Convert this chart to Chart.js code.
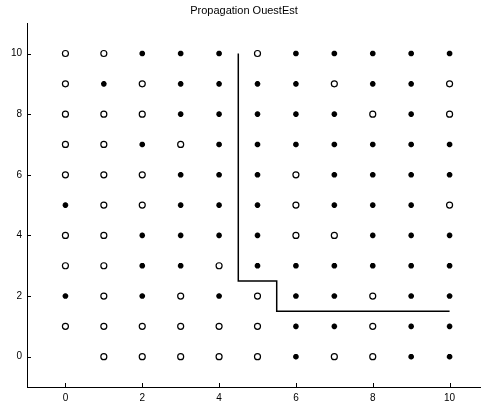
<!DOCTYPE html>
<html>
<head>
<meta charset="utf-8">
<script src="https://cdn.jsdelivr.net/npm/chart.js@4/dist/chart.umd.min.js"></script>
<style>
html,body{margin:0;padding:0;background:#fff;overflow:hidden;}
canvas{display:block;}
</style>
</head>
<body>
<canvas id="c" width="508" height="406"></canvas>
<script>
// Grid columns (x) and rows (y)
const xs = [0,1,2,3,4,5,6,7,8,9,10];
const ys = [10,9,8,7,6,5,4,3,2,1,0];
// Marker per cell, row by row from y=10 down to y=0: o = circle, * = star, . = none
const markerRows = [
  "oo***o*****",
  "o*o****o**o",
  "ooo*****o*o",
  "oo*o*******",
  "ooo***o****",
  "*oo***o***o",
  "oo****oo***",
  "oo**o******",
  "*o*o*o**o**",
  "oooooo**o**",
  ".ooooo*oo**"
];
// Frontier line
const lineX = [4.5, 4.5, 5.5, 5.5, 10];
const lineY = [10, 2.5, 2.5, 1.5, 1.5];
const xTicks = [0,2,4,6,8,10];
const yTicks = [0,2,4,6,8,10];
const titleText = "Propagation OuestEst";

const circles = [], stars = [];
ys.forEach((y, r) => {
  xs.forEach((x, c) => {
    const m = markerRows[r][c];
    if (m === 'o') circles.push({x, y});
    else if (m === '*') stars.push({x, y});
  });
});
const frontier = lineX.map((x, i) => ({x, y: lineY[i]}));

const FONT = "'Liberation Sans', Arial, Helvetica, sans-serif";

const inwardTicks = {
  id: 'inwardTicks',
  afterDraw(chart) {
    const ctx = chart.ctx, a = chart.chartArea;
    ctx.save();
    ctx.strokeStyle = '#000';
    ctx.lineWidth = 1;
    const sx = chart.scales.x, sy = chart.scales.y;
    sx.ticks.forEach(t => {
      const p = Math.round(sx.getPixelForValue(t.value)) + 0.5;
      ctx.beginPath(); ctx.moveTo(p, a.bottom); ctx.lineTo(p, a.bottom - 4); ctx.stroke();
    });
    sy.ticks.forEach(t => {
      const p = Math.round(sy.getPixelForValue(t.value)) + 0.5;
      ctx.beginPath(); ctx.moveTo(a.left, p); ctx.lineTo(a.left + 4, p); ctx.stroke();
    });
    ctx.restore();
  }
};

new Chart(document.getElementById('c'), {
  data: {
    datasets: [
      {
        type: 'scatter', data: circles, pointStyle: 'circle', pointRadius: 3,
        pointBorderWidth: 1.2, pointBorderColor: '#000', pointBackgroundColor: '#fff'
      },
      {
        type: 'scatter', data: stars, pointStyle: 'star', pointRadius: 2.8,
        pointBorderWidth: 1.9, pointBorderColor: '#000', pointBackgroundColor: '#000'
      },
      {
        type: 'line', data: frontier, borderColor: '#000', borderWidth: 1.5,
        pointRadius: 0, fill: false, tension: 0
      }
    ]
  },
  options: {
    responsive: false,
    animation: false,
    layout: { padding: { left: 0, right: 20, top: 0, bottom: 0 } },
    plugins: {
      legend: { display: false },
      tooltip: { enabled: false },
      title: {
        display: true, text: titleText, color: '#000',
        font: { family: FONT, size: 11, weight: 'normal', lineHeight: 1.2 },
        padding: { top: 4, bottom: 6 }
      }
    },
    scales: {
      x: {
        type: 'linear', min: -1, max: 11,
        grid: { display: false, drawTicks: false },
        border: { display: true, color: '#000', width: 1 },
        ticks: { color: '#000', padding: 5, font: { family: FONT, size: 10 }, maxRotation: 0 },
        afterBuildTicks: s => { s.ticks = xTicks.map(v => ({ value: v })); },
        afterFit: s => { s.height = 19; }
      },
      y: {
        type: 'linear', min: -1, max: 11,
        grid: { display: false, drawTicks: false },
        border: { display: true, color: '#000', width: 1 },
        ticks: { color: '#000', padding: 5, font: { family: FONT, size: 10 } },
        afterBuildTicks: s => { s.ticks = yTicks.map(v => ({ value: v })); },
        afterFit: s => { s.width = 27; }
      }
    }
  },
  plugins: [inwardTicks]
});
</script>
</body>
</html>
